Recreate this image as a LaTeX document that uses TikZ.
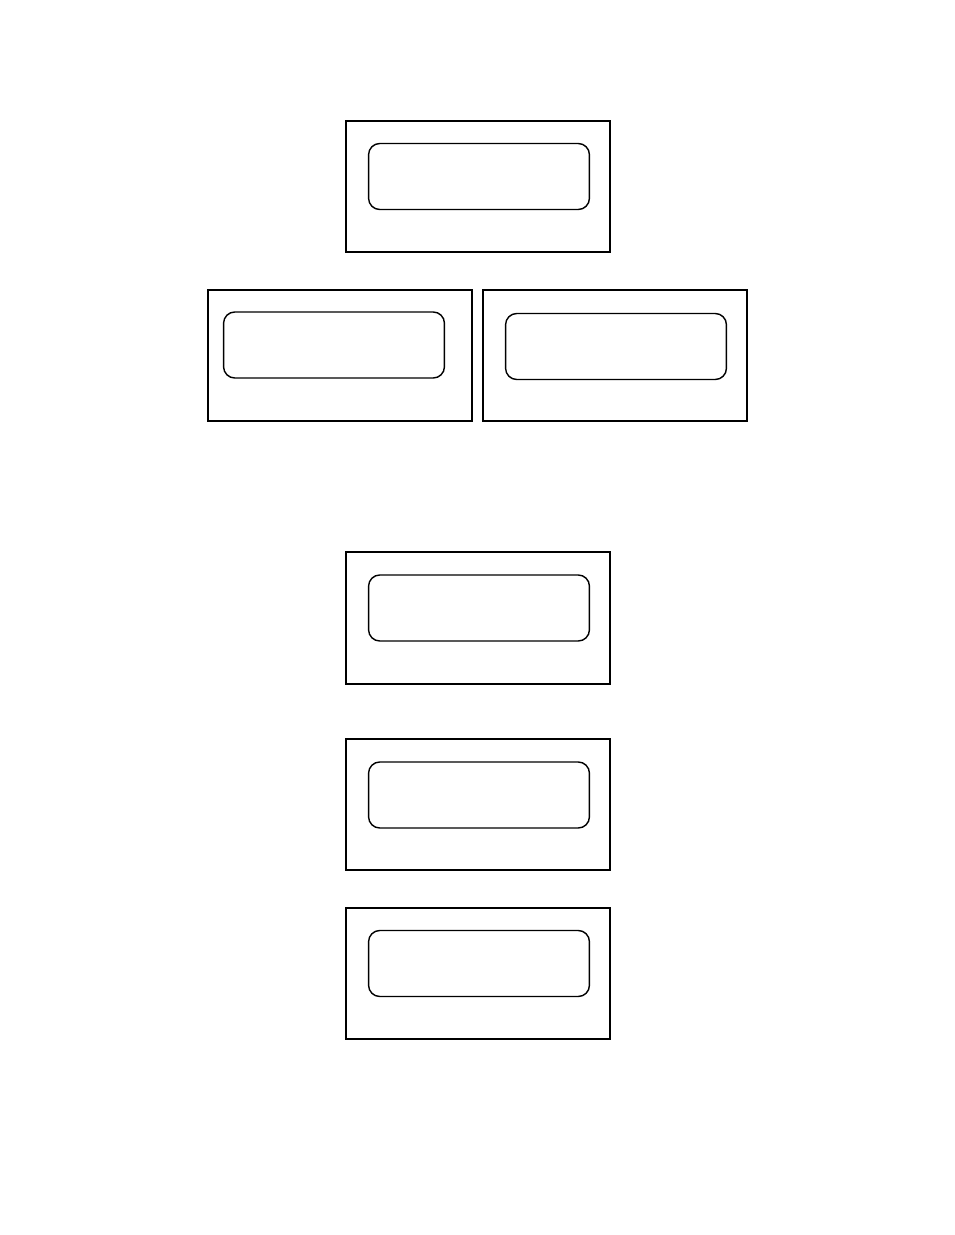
\documentclass[tikz,border=0pt]{standalone}
\usepackage{xcolor}
\usepackage{tikz}
\usetikzlibrary{calc,positioning}
\tikzset{>=stealth}

\begin{document}
\begin{tikzpicture}[x=0.025cm, y=-0.025cm,
        panel/.style={draw, line width=1.4pt, minimum width=6.6cm, minimum height=3.28cm, inner sep=0pt},
        screen/.style={draw, line width=1pt, rounded corners=0.28cm, minimum width=5.52cm, minimum height=1.65cm, inner sep=0pt}]

        % Page frame
        \useasboundingbox (0,0) rectangle (954,1235);

        % Top panel
        \node[panel] (top) at (478,186.5) {};
        \node[screen] (topScreen) at (479,176.5) {};

        % Left panel of the pair
        \node[panel] (left) at (340,355.5) {};
        \node[screen] (leftScreen) at (334,345) {};

        % Right panel of the pair
        \node[panel, line width=1.8pt] (right) at (615,355.5) {};
        \node[screen] (rightScreen) at (616,346.5) {};

        % Lower column of panels
        \node[panel] (lowA) at (478,618) {};
        \node[screen] (lowAScreen) at (479,608) {};

        \node[panel] (lowB) at (478,804.5) {};
        \node[screen] (lowBScreen) at (479,795) {};

        \node[panel] (lowC) at (478,973.5) {};
        \node[screen] (lowCScreen) at (479,963.5) {};

\end{tikzpicture}
\end{document}
